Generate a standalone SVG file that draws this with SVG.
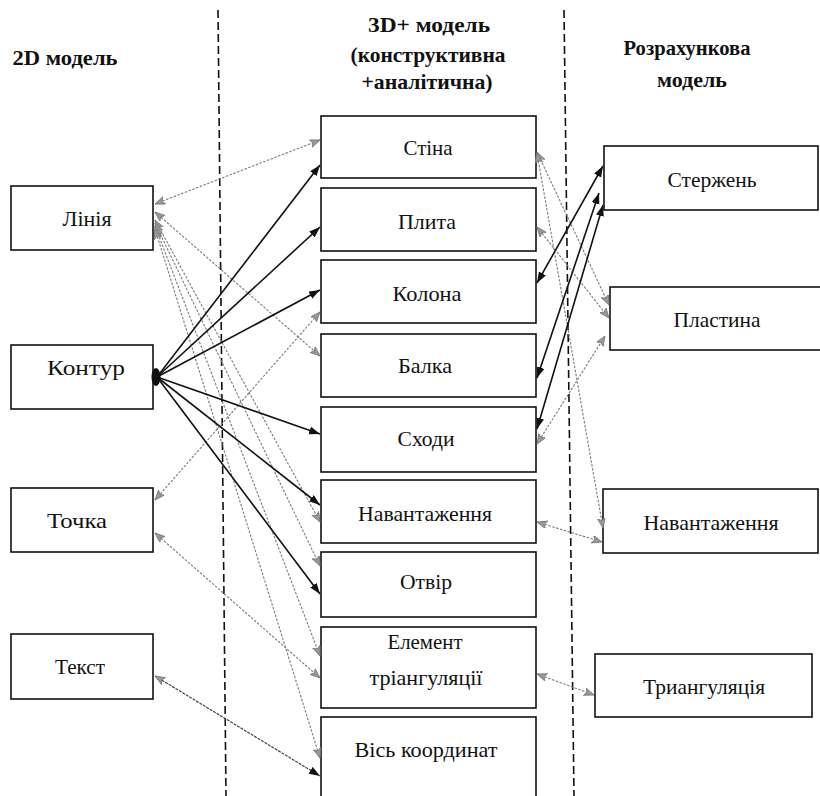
<svg xmlns="http://www.w3.org/2000/svg" width="820" height="796" viewBox="0 0 820 796">
<style>
.box{fill:#fff;stroke:#111;stroke-width:1.6}
.t{font-family:"Liberation Serif","DejaVu Serif",serif;font-size:21px;fill:#111;text-anchor:middle}
.h{font-family:"Liberation Serif","DejaVu Serif",serif;font-size:21px;font-weight:bold;fill:#111;text-anchor:middle}
.blk{stroke:#111;stroke-width:1.6;fill:none}
.gry{stroke:#7a7a7a;stroke-width:1.1;stroke-dasharray:2.5 1.5;fill:none}
.dk{stroke:#444;stroke-width:1.2;stroke-dasharray:3 1;fill:none}
.sep{stroke:#111;stroke-width:1.6;stroke-dasharray:8 4;fill:none}
</style>
<defs>
<marker id="ab" markerUnits="userSpaceOnUse" markerWidth="12" markerHeight="10" refX="11" refY="4" orient="auto-start-reverse">
<path d="M0,0 L11,4 L0,8 z" fill="#111"/>
</marker>
<marker id="ag" markerUnits="userSpaceOnUse" markerWidth="11" markerHeight="9" refX="10" refY="4" orient="auto-start-reverse">
<path d="M0,0 L10,4 L0,8 L2.5,4 z" fill="#999" stroke="#777" stroke-width="0.8"/>
</marker>
</defs>
<rect width="820" height="796" fill="#fff"/>

<g id="separators">
<line class="sep" x1="218" y1="10" x2="226" y2="796"/>
<line class="sep" x1="564" y1="10" x2="574" y2="796"/>
</g>

<g id="titles">
<text class="h" x="65" y="65" textLength="105" lengthAdjust="spacingAndGlyphs">2D модель</text>
<text class="h" x="429" y="32" textLength="122" lengthAdjust="spacingAndGlyphs">3D+ модель</text>
<text class="h" x="428" y="62" textLength="155" lengthAdjust="spacingAndGlyphs">(конструктивна</text>
<text class="h" x="427" y="89" textLength="131" lengthAdjust="spacingAndGlyphs">+аналітична)</text>
<text class="h" x="687" y="55" textLength="127" lengthAdjust="spacingAndGlyphs">Розрахункова</text>
<text class="h" x="692" y="87" textLength="70" lengthAdjust="spacingAndGlyphs">модель</text>
</g>

<g id="n-linia"><rect class="box" x="11" y="186" width="142" height="64"/><text class="t" x="87" y="226" textLength="49" lengthAdjust="spacingAndGlyphs">Лінія</text></g>
<g id="n-kontur"><rect class="box" x="11" y="345" width="142" height="64"/><text class="t" x="86" y="375" textLength="78" lengthAdjust="spacingAndGlyphs">Контур</text></g>
<g id="n-tochka"><rect class="box" x="11" y="488" width="142" height="64"/><text class="t" x="77" y="528" textLength="60" lengthAdjust="spacingAndGlyphs">Точка</text></g>
<g id="n-tekst"><rect class="box" x="11" y="634" width="142" height="65"/><text class="t" x="80" y="674" textLength="50" lengthAdjust="spacingAndGlyphs">Текст</text></g>

<g id="n-stina"><rect class="box" x="321" y="116" width="215" height="62"/><text class="t" x="428" y="155" textLength="49" lengthAdjust="spacingAndGlyphs">Стіна</text></g>
<g id="n-plyta"><rect class="box" x="321" y="188" width="215" height="63"/><text class="t" x="427" y="229" textLength="58" lengthAdjust="spacingAndGlyphs">Плита</text></g>
<g id="n-kolona"><rect class="box" x="321" y="260" width="215" height="63"/><text class="t" x="427" y="301" textLength="69" lengthAdjust="spacingAndGlyphs">Колона</text></g>
<g id="n-balka"><rect class="box" x="321" y="334" width="215" height="63"/><text class="t" x="425" y="373" textLength="54" lengthAdjust="spacingAndGlyphs">Балка</text></g>
<g id="n-skhody"><rect class="box" x="321" y="407" width="215" height="65"/><text class="t" x="426" y="446" textLength="57" lengthAdjust="spacingAndGlyphs">Сходи</text></g>
<g id="n-navant-m"><rect class="box" x="321" y="480" width="215" height="63"/><text class="t" x="425" y="521" textLength="134" lengthAdjust="spacingAndGlyphs">Навантаження</text></g>
<g id="n-otvir"><rect class="box" x="321" y="552" width="215" height="65"/><text class="t" x="426" y="589" textLength="52" lengthAdjust="spacingAndGlyphs">Отвір</text></g>
<g id="n-element"><rect class="box" x="321" y="627" width="215" height="81"/><text class="t" x="425" y="649" textLength="75" lengthAdjust="spacingAndGlyphs">Елемент</text><text class="t" x="426" y="685" textLength="113" lengthAdjust="spacingAndGlyphs">тріангуляції</text></g>
<g id="n-vis"><rect class="box" x="321" y="717" width="215" height="90"/><text class="t" x="426" y="757" textLength="143" lengthAdjust="spacingAndGlyphs">Вісь координат</text></g>

<g id="n-sterzhen"><rect class="box" x="604" y="146" width="214" height="64"/><text class="t" x="712" y="187" textLength="89" lengthAdjust="spacingAndGlyphs">Стержень</text></g>
<g id="n-plastyna"><rect class="box" x="610" y="287" width="220" height="63"/><text class="t" x="717" y="327" textLength="87" lengthAdjust="spacingAndGlyphs">Пластина</text></g>
<g id="n-navant-r"><rect class="box" x="603" y="489" width="215" height="64"/><text class="t" x="711" y="530" textLength="135" lengthAdjust="spacingAndGlyphs">Навантаження</text></g>
<g id="n-triang"><rect class="box" x="595" y="654" width="217" height="63"/><text class="t" x="704" y="694" textLength="122" lengthAdjust="spacingAndGlyphs">Триангуляція</text></g>

<g id="connectors">
<line class="gry" x1="155" y1="204" x2="320" y2="140" marker-start="url(#ag)" marker-end="url(#ag)"/>
<line class="gry" x1="155" y1="212" x2="320" y2="356" marker-start="url(#ag)" marker-end="url(#ag)"/>
<line class="gry" x1="155" y1="220" x2="320" y2="522" marker-start="url(#ag)" marker-end="url(#ag)"/>
<line class="gry" x1="155" y1="223" x2="320" y2="566" marker-start="url(#ag)" marker-end="url(#ag)"/>
<line class="gry" x1="155" y1="226" x2="320" y2="656" marker-start="url(#ag)" marker-end="url(#ag)"/>
<line class="gry" x1="155" y1="229" x2="320" y2="758" marker-start="url(#ag)" marker-end="url(#ag)"/>
<line class="gry" x1="155" y1="500" x2="320" y2="312" marker-start="url(#ag)" marker-end="url(#ag)"/>
<line class="gry" x1="155" y1="533" x2="320" y2="678" marker-start="url(#ag)" marker-end="url(#ag)"/>
<line class="dk" x1="155" y1="676" x2="320" y2="776" marker-start="url(#ag)" marker-end="url(#ab)"/>
<line class="blk" x1="157" y1="377" x2="320" y2="165" marker-end="url(#ab)"/>
<line class="blk" x1="157" y1="377" x2="320" y2="227" marker-end="url(#ab)"/>
<line class="blk" x1="157" y1="377" x2="320" y2="290" marker-end="url(#ab)"/>
<line class="blk" x1="157" y1="377" x2="320" y2="434" marker-end="url(#ab)"/>
<line class="blk" x1="157" y1="377" x2="320" y2="505" marker-end="url(#ab)"/>
<line class="blk" x1="157" y1="377" x2="320" y2="594" marker-end="url(#ab)"/>
<ellipse cx="156" cy="377" rx="4.5" ry="9" fill="#111"/>
<line class="gry" x1="537" y1="152" x2="609" y2="305" marker-start="url(#ag)" marker-end="url(#ag)"/>
<line class="gry" x1="537" y1="153" x2="603" y2="528" marker-start="url(#ag)" marker-end="url(#ag)"/>
<line class="gry" x1="537" y1="227" x2="609" y2="318" marker-start="url(#ag)" marker-end="url(#ag)"/>
<line class="gry" x1="537" y1="444" x2="605" y2="336" marker-start="url(#ag)" marker-end="url(#ag)"/>
<line class="gry" x1="537" y1="522" x2="602" y2="542" marker-start="url(#ag)" marker-end="url(#ag)"/>
<line class="gry" x1="537" y1="674" x2="594" y2="695" marker-start="url(#ag)" marker-end="url(#ag)"/>
<line class="blk" x1="537" y1="283" x2="603" y2="166" marker-start="url(#ab)" marker-end="url(#ab)"/>
<line class="blk" x1="537" y1="378" x2="599" y2="193" marker-start="url(#ab)" marker-end="url(#ab)"/>
<line class="blk" x1="537" y1="429" x2="603" y2="205" marker-start="url(#ab)" marker-end="url(#ab)"/>
</g>
</svg>
